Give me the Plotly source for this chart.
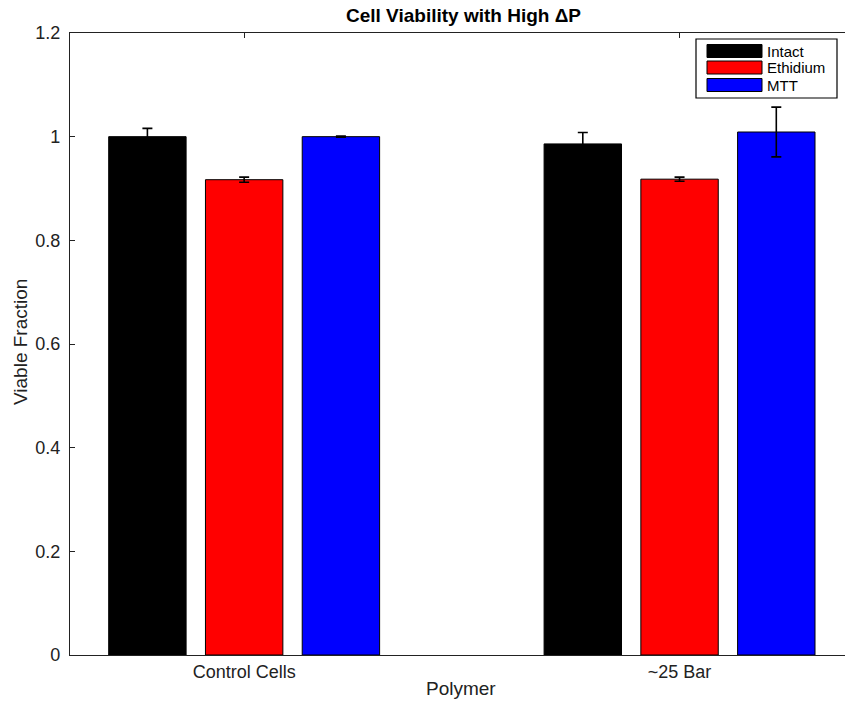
import plotly.graph_objects as go

# ---- data ----
categories = ["Control Cells", "~25 Bar"]
series_names = ["Intact", "Ethidium", "MTT"]
intact = [1.000, 0.986]
intact_err = [0.016, 0.022]
ethidium = [0.917, 0.918]
ethidium_err = [0.005, 0.004]
mtt = [1.000, 1.009]
mtt_err = [0.001, 0.048]
colors = ["#000000", "#ff0000", "#0000ff"]
y_ticks = [0, 0.2, 0.4, 0.6, 0.8, 1.0, 1.2]

values = [intact, ethidium, mtt]
errors = [intact_err, ethidium_err, mtt_err]

W, H = 845, 702
L, R, T, B = 70, 0, 33, 47
PW, PH = W - L - R, H - T - B

def px(x):
    return (x - L) / PW

def py(y):
    return (H - B - y) / PH

FONT = "Liberation Sans, Arial, Helvetica, sans-serif"
TXT = "#222222"

fig = go.Figure()
for name, vals, errs, col in zip(series_names, values, errors, colors):
    fig.add_trace(go.Bar(
        x=categories, y=vals, name=name,
        marker=dict(color=col, line=dict(color="#000000", width=1)),
        error_y=dict(type="data", array=errs, visible=True,
                     color="#000000", thickness=1.6, width=5),
        showlegend=False,
    ))

# manual MATLAB-style legend
shapes = [dict(type="rect", xref="paper", yref="paper",
               x0=px(696), x1=px(837), y0=py(98), y1=py(39),
               line=dict(color="#000000", width=1.2), fillcolor="#ffffff", layer="above")]
annotations = []
row_centers = [51, 67.5, 85]
for name, col, yc in zip(series_names, colors, row_centers):
    shapes.append(dict(type="rect", xref="paper", yref="paper",
                       x0=px(707), x1=px(762), y0=py(yc + 6.5), y1=py(yc - 6.5),
                       line=dict(color="#000000", width=1), fillcolor=col, layer="above"))
    annotations.append(dict(text=name, xref="paper", yref="paper",
                            x=px(766), y=py(yc), xanchor="left", yanchor="middle",
                            borderpad=0,
                            showarrow=False, font=dict(family=FONT, size=15, color="#000000")))

annotations.append(dict(text="Polymer", xref="paper", yref="paper",
                        x=px(461), y=py(688), xanchor="center", yanchor="middle",
                        showarrow=False, font=dict(family=FONT, size=19, color=TXT)))
annotations.append(dict(text="Viable Fraction", xref="paper", yref="paper",
                        x=px(20), y=py(342), xanchor="center", yanchor="middle",
                        textangle=-90,
                        showarrow=False, font=dict(family=FONT, size=19, color=TXT)))
annotations.append(dict(text="<b>Cell Viability with High ΔP</b>", xref="paper", yref="paper",
                        x=px(463), y=py(16), xanchor="center", yanchor="middle",
                        showarrow=False, font=dict(family=FONT, size=19, color="#000000")))

fig.update_layout(
    width=W, height=H,
    margin=dict(l=L, r=R, t=T, b=B, pad=0),
    paper_bgcolor="#ffffff", plot_bgcolor="#ffffff",
    barmode="group", bargap=1/3, bargroupgap=0.2,
    font=dict(family=FONT, size=18, color=TXT),
    shapes=shapes, annotations=annotations,
    xaxis=dict(type="category", range=[-0.4, 1.38],
               showline=True, linecolor="#222222", linewidth=1.3,
               mirror="ticks", ticks="inside", ticklen=5, tickcolor="#222222",
               showgrid=False, zeroline=False, layer="below traces",
               tickfont=dict(family=FONT, size=18, color=TXT)),
    yaxis=dict(range=[0, 1.2], tickvals=y_ticks,
               ticktext=[("%g" % v) for v in y_ticks],
               showline=True, linecolor="#222222", linewidth=1.3,
               ticks="inside", ticklen=5, tickcolor="#222222",
               showgrid=False, zeroline=False, ticklabelstandoff=5,
               tickfont=dict(family=FONT, size=18, color=TXT)),
)

fig.write_html("out.html")
